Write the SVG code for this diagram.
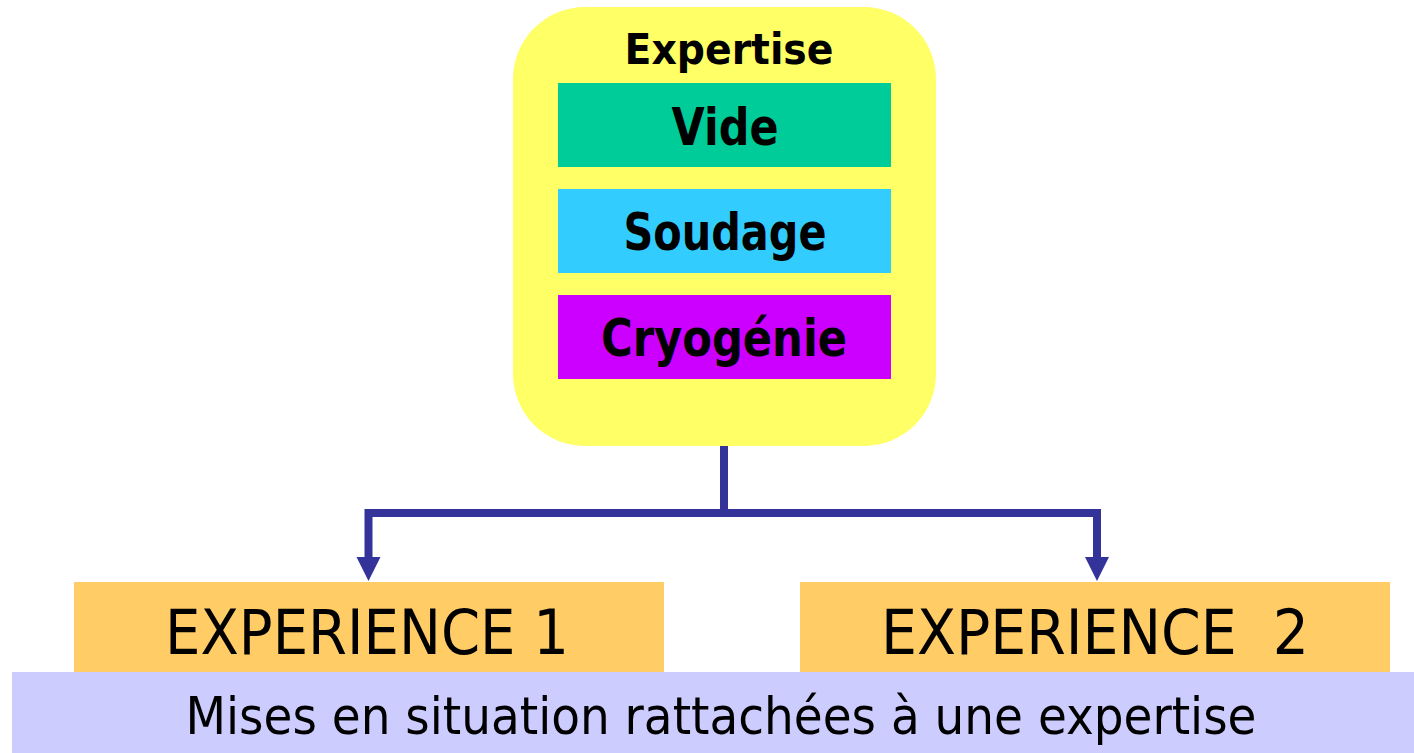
<svg xmlns="http://www.w3.org/2000/svg" width="1414" height="753" viewBox="0 0 1414 753">
  <defs>
    <style>
      .t { font-family: "DejaVu Sans", "Liberation Sans", sans-serif; fill: #000; text-anchor: middle; }
      .b { font-weight: bold; }
      .link { fill: none; stroke: #333399; stroke-width: 8; }
      .head { fill: #333399; stroke: none; }
    </style>
    <!-- downward arrowhead, tip at the origin -->
    <path id="head" class="head" d="M-12,-24 L12,-24 L0,0 Z"/>
  </defs>
  <rect width="1414" height="753" fill="#ffffff"/>

  <!-- expertise container with its three domains -->
  <g id="expertise">
    <rect x="513" y="7" width="423" height="439" rx="72" ry="72" fill="#ffff66"/>
    <text class="t b" x="729" y="64" font-size="43" textLength="209" lengthAdjust="spacingAndGlyphs">Expertise</text>
  </g>
  <g id="vide">
    <rect x="558" y="83" width="333" height="84" fill="#00cc99"/>
    <text class="t b" x="725" y="145" font-size="52" textLength="107" lengthAdjust="spacingAndGlyphs">Vide</text>
  </g>
  <g id="soudage">
    <rect x="558" y="189" width="333" height="84" fill="#33ccff"/>
    <text class="t b" x="725" y="250" font-size="52" textLength="203" lengthAdjust="spacingAndGlyphs">Soudage</text>
  </g>
  <g id="cryogenie">
    <rect x="558" y="295" width="333" height="84" fill="#cc00ff"/>
    <text class="t b" x="724" y="356" font-size="52" textLength="246" lengthAdjust="spacingAndGlyphs">Cryogénie</text>
  </g>

  <!-- branching connector -->
  <g id="connectors">
    <path class="link" d="M724,446 V513"/>
    <path class="link" d="M368.5,513 H1097"/>
    <path class="link" d="M368.5,509 V560"/>
    <path class="link" d="M1097,509 V560"/>
    <use href="#head" x="368.5" y="581"/>
    <use href="#head" x="1097" y="581"/>
  </g>

  <g id="experience1">
    <rect x="74" y="582" width="590" height="90" fill="#ffcc66"/>
    <text class="t" x="367" y="654" font-size="63" textLength="404" lengthAdjust="spacingAndGlyphs">EXPERIENCE 1</text>
  </g>
  <g id="experience2">
    <rect x="800" y="582" width="590" height="90" fill="#ffcc66"/>
    <text class="t" x="1095" y="654" font-size="63" textLength="428" lengthAdjust="spacingAndGlyphs" xml:space="preserve">EXPERIENCE  2</text>
  </g>

  <g id="situations">
    <rect x="12" y="672" width="1402" height="81" fill="#ccccff"/>
    <text class="t" x="721" y="734" font-size="51" textLength="1071" lengthAdjust="spacingAndGlyphs">Mises en situation rattachées à une expertise</text>
  </g>
</svg>
